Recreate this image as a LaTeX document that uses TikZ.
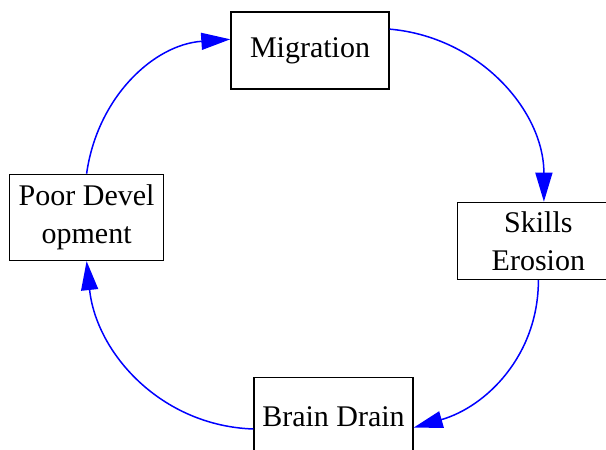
\documentclass[tikz,border=0pt]{standalone}
\usepackage{fontspec}
\setmainfont{Liberation Serif}
\usepackage{tikz}
\usetikzlibrary{arrows.meta, positioning}
\definecolor{loopBlue}{HTML}{0000FF}

\begin{document}
\begin{tikzpicture}[
    x=1pt, y=1pt,
    block/.style={rectangle, draw, line width=1.4pt, minimum width=158pt, minimum height=77pt, inner sep=0pt, align=center, font=\fontsize{30}{38}\selectfont},
    arrow/.style={-{Triangle[length=29pt, width=17pt]}, line width=1.5pt, draw=loopBlue},
]
    \useasboundingbox (0,0) rectangle (606,450);
    \node[block] (mig) at (310,399.5) {Migration};
    \node[block, minimum width=162pt, below right=112pt and 67pt of mig] (ski) {Skills\\Erosion};
    \node[block, minimum width=159pt, below left=97pt and 43pt of ski] (bd) {Brain Drain};
    \node[block, minimum width=154pt, minimum height=86pt, above left=116pt and 89pt of bd] (pd) {Poor Devel\\opment};

    \draw[arrow] (mig.15) to[out=-5, in=90] (ski.82);
    \draw[arrow] (ski.south) to[out=-90, in=16] (bd.-8);
    \draw[arrow] (bd.189) to[out=178, in=-84] (pd.south);
    \draw[arrow] (pd.north) to[out=82, in=184] (mig.172);
\end{tikzpicture}
\end{document}
